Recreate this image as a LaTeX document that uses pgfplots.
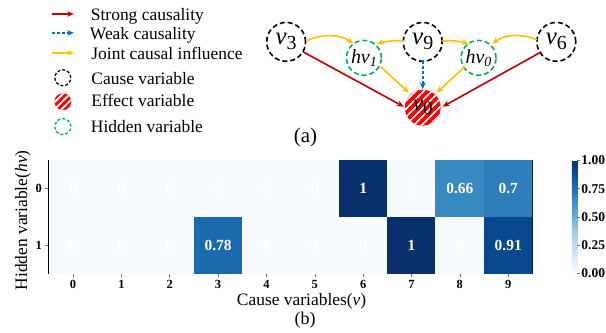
\documentclass[border=0pt]{standalone}
\usepackage{pgfplots}
\pgfplotsset{compat=1.18}
\usepackage{fontspec}
\setmainfont{Liberation Serif}
\usetikzlibrary{patterns.meta, arrows.meta}
\definecolor{cred}{RGB}{192,0,0}
\definecolor{cyellow}{RGB}{255,192,0}
\definecolor{cblue}{RGB}{0,112,192}
\definecolor{cgreen}{RGB}{0,176,80}
\newcommand\fs[1]{\fontsize{#1bp}{#1bp}\selectfont}
\pgfplotstableread{
x y c
0 0 0
1 0 0
2 0 0
3 0 0
4 0 0
5 0 0
6 0 1
7 0 0
8 0 0.66
9 0 0.7
0 1 0
1 1 0
2 1 0
3 1 0.78
4 1 0
5 1 0
6 1 0
7 1 1
8 1 0
9 1 0.91
}\heat
\begin{document}
\begin{tikzpicture}
\path (0,0) rectangle (606bp,334bp);
\begin{axis}[
  at={(49bp,60bp)}, anchor=south west,
  scale only axis, width=485bp, height=113bp,
  xmin=-0.5, xmax=9.5, ymin=-0.5, ymax=1.5, y dir=reverse,
  enlargelimits=false,
  xtick={0,...,9}, ytick={0,1},
  tick align=outside, tick pos=left, major tick length=3.5bp,
  tick style={black!55, line width=0.6bp},
  ticklabel style={font=\fs{12.5}\bfseries},
  /pgf/number format/assume math mode=true,
  axis line style={line width=1.2bp},
  colormap={blues}{rgb255(0cm)=(247,251,255); rgb255(1cm)=(222,235,247); rgb255(2cm)=(198,219,239); rgb255(3cm)=(158,202,225); rgb255(4cm)=(107,174,214); rgb255(5cm)=(66,146,198); rgb255(6cm)=(33,113,181); rgb255(7cm)=(8,81,156); rgb255(8cm)=(8,48,107)},
  point meta min=0, point meta max=1,
  colorbar,
  colorbar style={
    at={(parent axis.north east)}, anchor=north west, xshift=31bp,
    width=5.5bp,
    ytick={0,0.25,0.5,0.75,1},
    ytick pos=right, yticklabel pos=right,
    tick align=outside, major tick length=3bp,
    tick style={black!55, line width=0.6bp},
    axis line style={draw=none},
    yticklabel style={font=\fs{13.5}\bfseries, inner sep=1bp, /pgf/number format/.cd, fixed, fixed zerofill, precision=2, assume math mode=true},
  },
]
\addplot[matrix plot*, mesh/cols=10, point meta=explicit,
  nodes near coords, nodes near coords align={center},
  every node near coord/.append style={font=\fs{15.5}\bfseries, text=white, anchor=center}]
  table[meta=c] {\heat};
\end{axis}
\node[font=\fs{17.5}, rotate=90] at (23bp,{334bp-221bp}) {Hidden variable(\textit{hv})};
\node[font=\fs{17.5}, anchor=base, inner sep=0] at (302.5bp,{334bp-306.5bp}) {Cause variables(\textit{v})};
\node[font=\fs{18}, anchor=base, inner sep=0] at (306bp,{334bp-325bp}) {(b)};
\fill[red] (63bp,{334bp-102bp}) circle[radius=8.5bp];
\path[pattern={Lines[angle=45,distance=5bp,line width=1.8bp]}, pattern color=white] (63bp,{334bp-102bp}) circle[radius=8.5bp];
\fill[red] (424bp,{334bp-108bp}) circle[radius=18bp];
\path[pattern={Lines[angle=45,distance=6bp,line width=2.2bp]}, pattern color=white] (424bp,{334bp-108bp}) circle[radius=18bp];
\begin{scope}[shift={(0,334bp)}, x=1bp, y=-1bp]
  \node[font=\fs{21}, anchor=base, inner sep=0] at (306.5,143) {(a)};
  % legend
  \draw[cred, line width=1.4bp, -{Stealth[length=6.5bp,width=5.5bp]}] (52,14) -- (74,14);
  \draw[cblue, line width=1.4bp, dash pattern=on 3bp off 2bp, -{Stealth[length=6.5bp,width=5.5bp]}] (52,33) -- (74,33);
  \draw[cyellow, line width=1.4bp, -{Stealth[length=6.5bp,width=5.5bp]}] (52,53) -- (74,53);
  \draw[black, line width=1.3bp, dash pattern=on 3bp off 2bp] (63,78) circle[radius=8bp];
  \draw[cgreen, line width=1.3bp, dash pattern=on 3bp off 2bp] (63,127) circle[radius=8bp];
  \node[font=\fs{17.5}, anchor=base west, inner sep=0] at (91,20.5) {Strong causality};
  \node[font=\fs{17.5}, anchor=base west, inner sep=0] at (90,40) {Weak causality};
  \node[font=\fs{17.5}, anchor=base west, inner sep=0] at (91.5,60) {Joint causal influence};
  \node[font=\fs{17.5}, anchor=base west, inner sep=0] at (91.5,85) {Cause variable};
  \node[font=\fs{17.5}, anchor=base west, inner sep=0] at (91.5,107.3) {Effect variable};
  \node[font=\fs{17.5}, anchor=base west, inner sep=0] at (91,133.3) {Hidden variable};
  % graph nodes
  \draw[black, line width=1.6bp, dash pattern=on 5bp off 3bp] (287,42) circle[radius=19.5bp];
  \draw[black, line width=1.6bp, dash pattern=on 5bp off 3bp] (424,42) circle[radius=19.5bp];
  \draw[black, line width=1.6bp, dash pattern=on 5bp off 3bp] (558,42) circle[radius=19.5bp];
  \draw[cgreen, line width=1.6bp, dash pattern=on 5bp off 3bp] (365,58) circle[radius=17.5bp];
  \draw[cgreen, line width=1.6bp, dash pattern=on 5bp off 3bp] (480,58) circle[radius=17.5bp];
  \node[font=\fs{25}, inner sep=0] at (287,42) {\textit{v}\raisebox{-5bp}{\fs{20}3}};
  \node[font=\fs{25}, inner sep=0] at (424,42) {\textit{v}\raisebox{-5bp}{\fs{20}9}};
  \node[font=\fs{25}, inner sep=0] at (558,42) {\textit{v}\raisebox{-5bp}{\fs{20}6}};
  \node[font=\fs{20}, inner sep=0] at (365,58) {\textit{hv}\raisebox{-3bp}{\fs{14}\textit{1}}};
  \node[font=\fs{20}, inner sep=0] at (480,58) {\textit{hv}\raisebox{-3bp}{\fs{14}\textit{0}}};
  \node[font=\fs{23}, inner sep=0] at (424,108) {\textit{v}\raisebox{-4bp}{\fs{19}0}};
  % edges
  \tikzset{arr/.style={line width=1.6bp, -{Stealth[length=7bp,width=6bp]}}}
  \draw[arr, cred] (304,52) -- (405,107);
  \draw[arr, cred] (543,52) -- (444,107);
  \draw[arr, cyellow] (382,67) -- (410,93);
  \draw[arr, cyellow] (466,67) -- (438,93);
  \draw[arr, cblue, dash pattern=on 3bp off 2bp] (424,61.5) -- (424,89.5);
  \draw[arr, cyellow] (307,41) .. controls (325,33) and (343,35) .. (354,44);
  \draw[arr, cyellow] (405,41) .. controls (395,40.5) and (388,41) .. (378,44);
  \draw[arr, cyellow] (443,41) .. controls (453,40.5) and (460,41) .. (470,44);
  \draw[arr, cyellow] (539,40) .. controls (521,33) and (505,35) .. (494,44);
\end{scope}
\end{tikzpicture}
\end{document}
